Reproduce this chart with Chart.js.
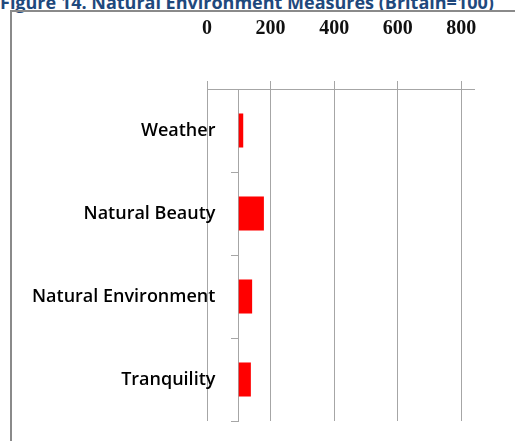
<!DOCTYPE html>
<html>
<head>
<meta charset="utf-8">
<script src="https://cdn.jsdelivr.net/npm/chart.js@4"></script>
<style>
    html, body { margin: 0; padding: 0; background: #fff; overflow: hidden; }
    #title {
        position: absolute; left: 0; top: -8px; white-space: nowrap;
        font: bold 18px "Open Sans", sans-serif; color: #1F497D; line-height: 20px;
    }
    #frame {
        position: absolute; left: 10px; top: 10px; width: 700px; height: 700px;
        border: 2px solid #8a8a8a;
    }
    #wrap { position: absolute; left: 0; top: 0; width: 515px; height: 441px; }
</style>
</head>
<body>
<div id="title">Figure 14. Natural Environment Measures (Britain=100)</div>
<div id="frame"></div>
<div id="wrap"><canvas id="chart" width="515" height="441"></canvas></div>
<script>
// Natural environment measures, Britain = 100
const categories = ['Weather', 'Natural Beauty', 'Natural Environment', 'Tranquility'];
const values = [114, 179, 142, 138];
const britainBase = 100;
const tickValues = [0, 200, 400, 600, 800];
const axisMax = 840;

const gridColor = '#a6a6a6';
// labels sit right-aligned on the category axis line, so leave a gap after them
const labelGap = '     ';

const ctx = document.getElementById('chart').getContext('2d');
new Chart(ctx, {
    type: 'bar',
    data: {
        labels: categories,
        datasets: [{
            data: values,
            base: britainBase,
            backgroundColor: '#ff0000',
            borderWidth: 0,
            categoryPercentage: 1,
            barPercentage: 0.41
        }]
    },
    options: {
        indexAxis: 'y',
        responsive: false,
        animation: false,
        layout: {
            padding: { left: 207, right: 41, top: -23, bottom: 20 }
        },
        scales: {
            x: {
                position: 'top',
                min: 0,
                max: axisMax,
                afterBuildTicks: function(scale) {
                    scale.ticks = tickValues.map(v => ({ value: v }));
                },
                grid: { color: gridColor, lineWidth: 1, tickLength: 8 },
                border: { color: gridColor, width: 1 },
                ticks: {
                    padding: 0,
                    color: '#111',
                    // tall line height keeps the numbers well above the axis line
                    font: { family: '"Liberation Serif", serif', size: 20, weight: 'bold', lineHeight: '104px' }
                }
            },
            y: {
                type: 'category',
                position: { x: britainBase },
                offset: true,
                grid: {
                    offset: true,
                    drawOnChartArea: false,
                    drawTicks: true,
                    tickLength: 7,
                    color: gridColor
                },
                border: { color: gridColor, width: 1 },
                ticks: {
                    color: '#000',
                    font: { family: '"Open Sans", sans-serif', size: 18, weight: '600' },
                    callback: function(value) {
                        return this.getLabelForValue(value) + labelGap;
                    }
                }
            }
        },
        plugins: {
            legend: { display: false },
            tooltip: { enabled: false }
        }
    }
});
</script>
</body>
</html>
